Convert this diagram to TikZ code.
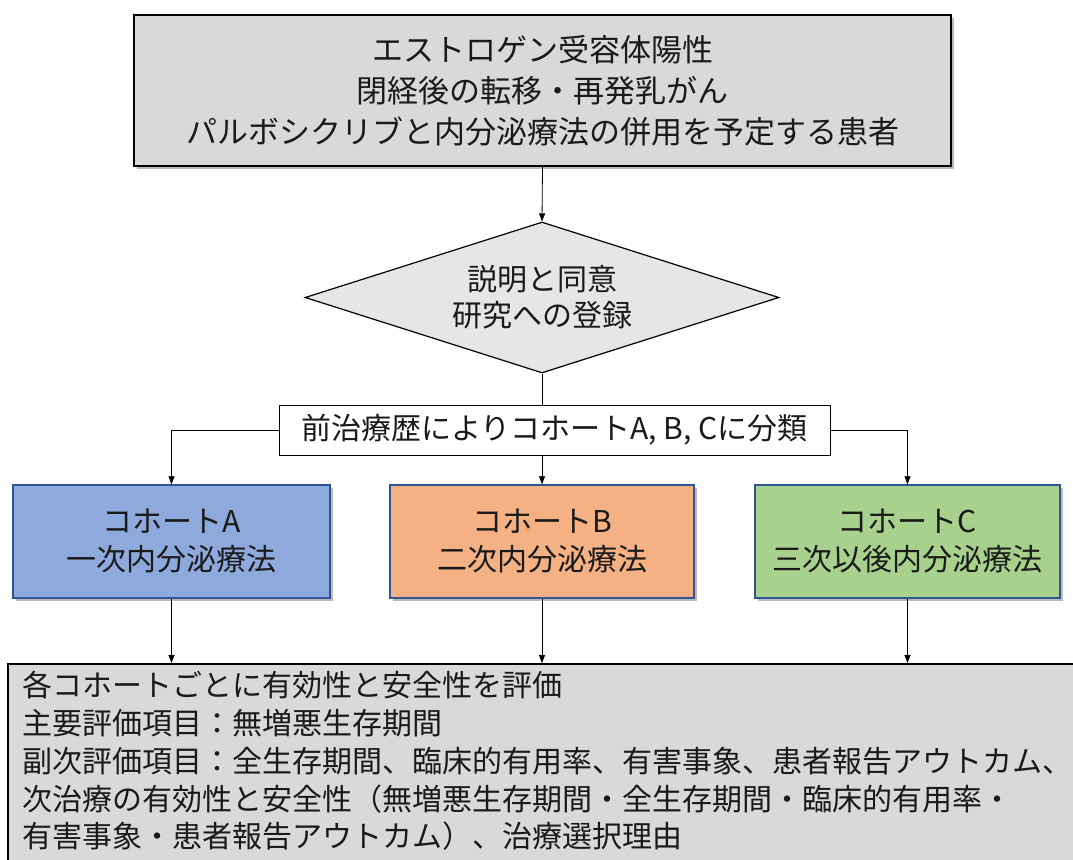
\documentclass[tikz,border=0pt]{standalone}
\usepackage{fontspec}
\setmainfont{Noto Sans CJK JP}
\usetikzlibrary{shapes.geometric,arrows.meta,shadows}
\definecolor{boxgray}{HTML}{D9D9D9}
\definecolor{diagray}{HTML}{E6E6E6}
\definecolor{cohA}{HTML}{8EA9DB}
\definecolor{cohB}{HTML}{F4B183}
\definecolor{cohC}{HTML}{A9D18E}
\definecolor{cohborder}{HTML}{2F5597}
\definecolor{txt}{HTML}{1A1A1A}
\tikzset{
  shad/.style={drop shadow={shadow xshift=3pt,shadow yshift=-3pt,fill=black!45,opacity=0.6}},
  graybox/.style={draw=black,line width=1.8pt,fill=boxgray,shad,inner sep=0pt,text=txt},
  cohort/.style={draw=cohborder,line width=1.4pt,shad,minimum width=#1,minimum height=113pt,inner sep=0pt,align=center,text=txt,font=\fontsize{30}{38}\selectfont},
  conn/.style={line width=0.8pt,draw=black},
  arr/.style={conn,-{Triangle[length=8pt,width=6pt]}}
}
\begin{document}
\begin{tikzpicture}[x=1pt,y=-1pt]
\useasboundingbox (0,0) rectangle (1073,859);
\node[graybox,minimum width=817pt,minimum height=151pt,align=center,font=\fontsize{31}{41}\selectfont] (top) at (542.5,90.5)
  {エストロゲン受容体陽性\\閉経後の転移・再発乳がん\\パルボシクリブと内分泌療法の併用を予定する患者};
\node[diamond,aspect=3.14,draw=black,line width=1.2pt,fill=diagray,minimum width=474pt,minimum height=151pt,inner sep=0pt,align=center,text=txt,font=\fontsize{30}{36}\selectfont] (dia) at (542,297.5)
  {説明と同意\\研究への登録};
\node[draw=black,line width=1pt,fill=white,minimum width=551pt,minimum height=50pt,inner sep=0pt,text=txt,font=\fontsize{30}{34}\selectfont] (cls) at (554.5,430)
  {前治療歴によりコホートA, B, Cに分類};
\node[cohort=317pt,fill=cohA] (A) at (171.5,541.5) {コホートA\\一次内分泌療法};
\node[cohort=304pt,fill=cohB] (B) at (542,541.5) {コホートB\\二次内分泌療法};
\node[cohort=305pt,fill=cohC] (C) at (907.5,541.5) {コホートC\\三次以後内分泌療法};
\node[graybox,minimum width=1090pt,minimum height=220pt,anchor=north west] (bot) at (7,663) {};
\node[anchor=north west,inner sep=0pt,align=left,text=txt,font=\fontsize{30}{37.8}\selectfont] (bottxt) at (22,671)
  {各コホートごとに有効性と安全性を評価\\
   主要評価項目：無増悪生存期間\\
   副次評価項目：全生存期間、臨床的有用率、有害事象、患者報告アウトカム、\\
   次治療の有効性と安全性（無増悪生存期間・全生存期間・臨床的有用率・\\
   有害事象・患者報告アウトカム）、治療選択理由};
\draw[arr] (top.south) -- (dia.north);
\draw[conn] (dia.south) -- (dia.south |- cls.north);
\draw[arr] (cls.west) -| (A.north);
\draw[arr] (cls.east) -| (C.north);
\draw[arr] (dia.south |- cls.south) -- (B.north);
\draw[arr] (A.south) -- (A.south |- bot.north);
\draw[arr] (B.south) -- (B.south |- bot.north);
\draw[arr] (C.south) -- (C.south |- bot.north);
\end{tikzpicture}
\end{document}
